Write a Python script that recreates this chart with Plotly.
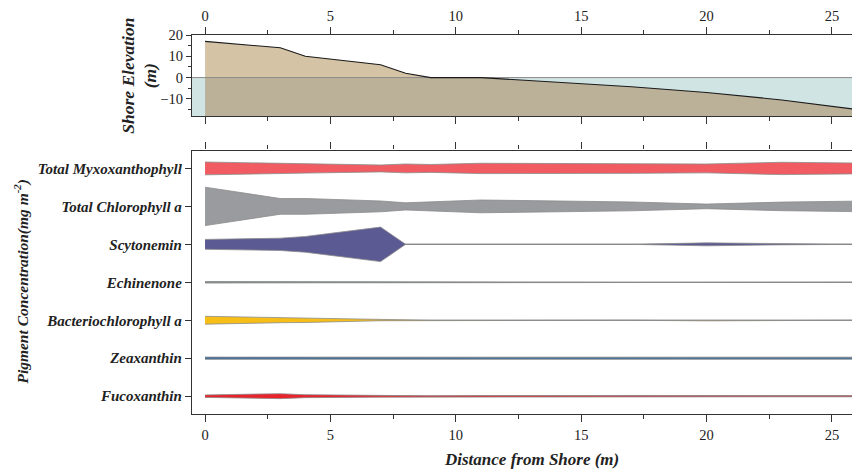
import numpy as np
import plotly.graph_objects as go

# ---------------- data ----------------
dist = [0, 3, 4, 7, 8, 9, 11, 17, 20, 23, 26]
elevation = [17, 14, 10, 6, 2, 0, 0, -4.3, -7, -10.5, -15]

pigments = ["Fucoxanthin", "Zeaxanthin", "Bacteriochlorophyll a", "Echinenone",
            "Scytonemin", "Total Chlorophyll a", "Total Myxoxanthophyll"]
fucoxanthin = [2.5, 5, 3, 2, 0.6, 0.6, 1.2, 0.5, 1.3, 1.3, 1.3]
zeaxanthin = [2.3, 2.1, 2.1, 1.8, 1.0, 1.8, 2.1, 2.1, 2.1, 2.1, 2.1]
bacteriochl = [8, 5, 4.5, 1, 0, 0, 0, 0, 1.2, 0.6, 0]
echinenone = [1.6, 1.2, 0.8, 0.3, 0, 0, 0, 0, 0, 0, 0]
scytonemin = [10, 12.5, 16, 35, 0, 0, 0, 0, 3, 1, 0]
chlorophyll = [39, 16, 16, 11, 7.3, 9, 13, 9, 4.7, 8.7, 10.7]
myxoxanthophyll = [13, 10, 9.5, 7, 9, 8, 10.5, 10, 9, 12.5, 11]

series = [fucoxanthin, zeaxanthin, bacteriochl, echinenone,
          scytonemin, chlorophyll, myxoxanthophyll]
colors = ["#E8232C", "#41709C", "#F7BE17", "#7E918C",
          "#5B5A92", "#9A9B9F", "#F05C61"]

xmin, xmax = -0.52, 26.12
ymin_top = -18.1
scale = 1 / 38.5   # concentration -> category-row units

serif = "Times New Roman, Liberation Serif, serif"
fig = go.Figure()

# ---------- top panel: shore profile ----------
fig.add_trace(go.Scatter(x=[xmin, xmax, xmax, xmin], y=[0, 0, ymin_top, ymin_top],
                         fill="toself", fillcolor="#D1E4E4", mode="none",
                         hoverinfo="skip", xaxis="x2", yaxis="y2", showlegend=False))
e = np.array(elevation, dtype=float)
d = np.array(dist, dtype=float)
below = np.minimum(e, 0)
above = np.maximum(e, 0)
fig.add_trace(go.Scatter(x=np.concatenate([d, d[::-1]]),
                         y=np.concatenate([below, np.full(len(d), ymin_top)]),
                         fill="toself", fillcolor="#BBB198", mode="none",
                         hoverinfo="skip", xaxis="x2", yaxis="y2", showlegend=False))
fig.add_trace(go.Scatter(x=np.concatenate([d, d[::-1]]),
                         y=np.concatenate([above, np.zeros(len(d))]),
                         fill="toself", fillcolor="#D5C3A5", mode="none",
                         hoverinfo="skip", xaxis="x2", yaxis="y2", showlegend=False))
fig.add_trace(go.Scatter(x=[xmin, xmax], y=[0, 0], mode="lines",
                         line=dict(color="#8A8A8A", width=1),
                         xaxis="x2", yaxis="y2", showlegend=False, hoverinfo="skip"))
fig.add_trace(go.Scatter(x=dist, y=elevation, mode="lines",
                         line=dict(color="#1A1A1A", width=1.1),
                         xaxis="x2", yaxis="y2", showlegend=False))

# ---------- bottom panel: kite diagram ----------
for i, (name, vals, col) in enumerate(zip(pigments, series, colors)):
    fig.add_trace(go.Scatter(x=[dist[0], dist[-1]], y=[i, i], mode="lines",
                             line=dict(color="#858585", width=1.2),
                             showlegend=False, hoverinfo="skip"))
    w = np.array(vals, dtype=float) * scale / 2
    xs = np.concatenate([d, d[::-1]])
    ys = np.concatenate([i + w, (i - w)[::-1]])
    fig.add_trace(go.Scatter(x=xs, y=ys, fill="toself", fillcolor=col,
                             mode="lines", line=dict(color="#8C8C8C", width=0.8),
                             name=name, showlegend=False))

tickfont = dict(family=serif, size=14.5, color="#222")
axcommon = dict(showgrid=False, zeroline=False, showline=True, linecolor="#333",
                linewidth=1.3, ticks="outside", tickcolor="#333", tickwidth=1.2)

fig.update_layout(
    width=852, height=465,
    margin=dict(l=184, r=0, t=22, b=59),
    paper_bgcolor="white", plot_bgcolor="white",
    xaxis=dict(domain=[0, 1], range=[xmin, xmax], anchor="y", side="bottom",
               tickvals=[0, 5, 10, 15, 20, 25], ticklen=7, mirror="ticks",
               minor=dict(dtick=2.5, tick0=0, ticklen=4, ticks="outside",
                          tickcolor="#333"),
               tickfont=tickfont, **axcommon),
    yaxis=dict(domain=[0, 0.695], range=[-0.47, 6.47], anchor="x",
               tickvals=list(range(len(pigments))), ticktext=pigments, ticklen=6,
               tickfont=dict(family=serif, size=15, color="#222",
                             weight="bold", style="italic"),
               **axcommon),
    xaxis2=dict(domain=[0, 1], range=[xmin, xmax], anchor="y2", side="top",
                tickvals=[0, 5, 10, 15, 20, 25], ticklen=7, mirror="ticks",
                minor=dict(dtick=2.5, tick0=0, ticklen=4, ticks="outside",
                           tickcolor="#333"),
                tickfont=tickfont, **axcommon),
    yaxis2=dict(domain=[0.786, 1], range=[ymin_top, 20], anchor="x2",
                tickvals=[-10, 0, 10, 20], ticklen=5,
                minor=dict(dtick=5, tick0=0, ticklen=3, ticks="outside",
                           tickcolor="#333"),
                tickfont=tickfont, **axcommon),
    annotations=[
        dict(text="Shore Elevation<br>(m)", xref="paper", yref="paper",
             x=-0.079, y=0.893, xanchor="center", yanchor="middle",
             textangle=-90, showarrow=False,
             font=dict(family=serif, size=17.5, color="#222",
                       weight="bold", style="italic")),
        dict(text="Pigment Concentration(mg m<sup>-2</sup>)", xref="paper",
             yref="paper", x=-0.2545, y=0.352, xanchor="center", yanchor="middle",
             textangle=-90, showarrow=False,
             font=dict(family=serif, size=15.5, color="#222",
                       weight="bold", style="italic")),
        dict(text="Distance from Shore (m)", xref="paper", yref="paper",
             x=0.5075, y=-0.12, xanchor="center", yanchor="middle",
             showarrow=False,
             font=dict(family=serif, size=17, color="#222",
                       weight="bold", style="italic")),
    ],
)

fig.write_html("out.html")
